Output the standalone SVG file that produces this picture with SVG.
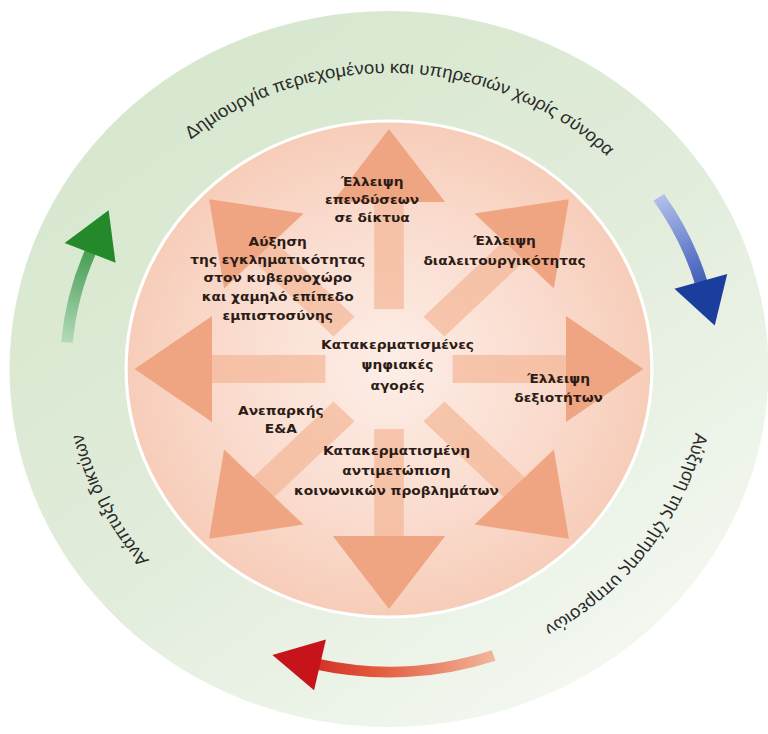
<svg xmlns="http://www.w3.org/2000/svg" width="768" height="734" viewBox="0 0 768 734">
  <defs>
    <style>
      .ring-text { font-family: "Liberation Sans", Arial, sans-serif; font-size: 17.5px; fill: #2a2a2a; }
      .label { font-family: "DejaVu Sans", Verdana, sans-serif; font-weight: bold; font-size: 13px; fill: #2b1c16; text-anchor: middle; }
      .shaft { fill: #f3b796; opacity: 0.7; }
      .head { fill: #efa27e; opacity: 0.95; }
    </style>
    <linearGradient id="ringFill" gradientUnits="userSpaceOnUse" x1="-260" y1="-320" x2="240" y2="340">
      <stop offset="0" stop-color="#d6e7cd"/>
      <stop offset="0.5" stop-color="#e1ecda"/>
      <stop offset="1" stop-color="#f5f9f3"/>
    </linearGradient>
    <radialGradient id="diskFill" gradientUnits="userSpaceOnUse" cx="0" cy="0" r="248">
      <stop offset="0" stop-color="#fdeee7"/>
      <stop offset="0.6" stop-color="#fadccf"/>
      <stop offset="1" stop-color="#f7cdb9"/>
    </radialGradient>
    <linearGradient id="greenFade" gradientUnits="userSpaceOnUse" x1="-303.8" y1="-26.6" x2="-264.5" y2="-158.7">
      <stop offset="0" stop-color="#b3dab9"/>
      <stop offset="0.55" stop-color="#5aa866"/>
      <stop offset="1" stop-color="#24892a"/>
    </linearGradient>
    <linearGradient id="blueFade" gradientUnits="userSpaceOnUse" x1="254.5" y1="-171.7" x2="307.3" y2="-43.6">
      <stop offset="0" stop-color="#b2c0ea"/>
      <stop offset="0.55" stop-color="#5470c4"/>
      <stop offset="1" stop-color="#1b3d9e"/>
    </linearGradient>
    <linearGradient id="redFade" gradientUnits="userSpaceOnUse" x1="98.7" y1="286.5" x2="-110" y2="286">
      <stop offset="0" stop-color="#f2b59b"/>
      <stop offset="0.55" stop-color="#e2563a"/>
      <stop offset="1" stop-color="#c6141a"/>
    </linearGradient>
    <!-- clockwise circle through the middle of the green band, starting at 3 o'clock -->
    <path id="bandPath" d="M 296 0 A 296 296 0 1 1 -296 0 A 296 296 0 1 1 296 0"/>
    <g id="spoke">
      <rect class="shaft" x="-14" y="-168" width="28" height="108"/>
      <polygon class="head" points="0,-240 53,-167 -53,-167"/>
    </g>
  </defs>

  <rect width="768" height="734" fill="#ffffff"/>

  <!-- whole drawing is slightly wider than tall -->
  <g transform="translate(389,369) scale(1.06,1)">
    <g id="outer-band">
      <circle r="358" fill="url(#ringFill)"/>
    </g>

    <g id="ring-labels">
      <text class="ring-text"><textPath href="#bandPath" startOffset="1407" text-anchor="middle">Δημιουργία περιεχομένου και υπηρεσιών χωρίς σύνορα</textPath></text>
      <text class="ring-text"><textPath href="#bandPath" startOffset="188" text-anchor="middle">Αύξηση της ζήτησης υπηρεσιών</textPath></text>
      <text class="ring-text"><textPath href="#bandPath" startOffset="793" text-anchor="middle">Ανάπτυξη δικτύων</textPath></text>
    </g>

    <g id="cycle-arrows">
      <g id="arrow-green">
        <path d="M -303.8 -26.6 A 305 305 0 0 1 -280.8 -119.2" fill="none" stroke="url(#greenFade)" stroke-width="11"/>
        <polygon points="-264.5,-158.7 -306.0,-126.1 -258.0,-106.3" fill="#24892a"/>
      </g>
      <g id="arrow-blue">
        <path d="M 254.5 -171.7 A 307 307 0 0 1 295.1 -84.6" fill="none" stroke="url(#blueFade)" stroke-width="12"/>
        <polygon points="307.3,-43.6 319.1,-95.1 269.3,-80.3" fill="#1b3d9e"/>
      </g>
      <g id="arrow-red">
        <path d="M 98.7 286.5 A 303 303 0 0 1 -68.2 295.2" fill="none" stroke="url(#redFade)" stroke-width="11"/>
        <polygon points="-110.0,286.0 -70.7,321.3 -59.5,270.5" fill="#c6141a"/>
      </g>
    </g>

    <g id="core">
      <circle r="248" fill="url(#diskFill)" stroke="#ffffff" stroke-width="3"/>
    </g>

    <g id="burst">
      <use href="#spoke"/>
      <use href="#spoke" transform="rotate(45)"/>
      <use href="#spoke" transform="rotate(90)"/>
      <use href="#spoke" transform="rotate(135)"/>
      <use href="#spoke" transform="rotate(180)"/>
      <use href="#spoke" transform="rotate(225)"/>
      <use href="#spoke" transform="rotate(270)"/>
      <use href="#spoke" transform="rotate(315)"/>
    </g>

    <g id="node-investment">
      <text class="label" x="-16" y="-183">Έλλειψη</text>
      <text class="label" x="-16" y="-165">επενδύσεων</text>
      <text class="label" x="-16" y="-147">σε δίκτυα</text>
    </g>
    <g id="node-cybercrime">
      <text class="label" x="-105" y="-123">Αύξηση</text>
      <text class="label" x="-105" y="-105">της εγκληματικότητας</text>
      <text class="label" x="-105" y="-87">στον κυβερνοχώρο</text>
      <text class="label" x="-105" y="-68">και χαμηλό επίπεδο</text>
      <text class="label" x="-105" y="-49">εμπιστοσύνης</text>
    </g>
    <g id="node-interoperability">
      <text class="label" x="109" y="-124">Έλλειψη</text>
      <text class="label" x="109" y="-104">διαλειτουργικότητας</text>
    </g>
    <g id="node-markets">
      <text class="label" x="8" y="-20">Κατακερματισμένες</text>
      <text class="label" x="8" y="0">ψηφιακές</text>
      <text class="label" x="8" y="21">αγορές</text>
    </g>
    <g id="node-skills">
      <text class="label" x="160" y="14">Έλλειψη</text>
      <text class="label" x="160" y="33">δεξιοτήτων</text>
    </g>
    <g id="node-research">
      <text class="label" x="-102" y="46">Ανεπαρκής</text>
      <text class="label" x="-102" y="64">Ε&amp;Α</text>
    </g>
    <g id="node-social">
      <text class="label" x="7" y="86">Κατακερματισμένη</text>
      <text class="label" x="7" y="106">αντιμετώπιση</text>
      <text class="label" x="7" y="126">κοινωνικών προβλημάτων</text>
    </g>
  </g>
</svg>
